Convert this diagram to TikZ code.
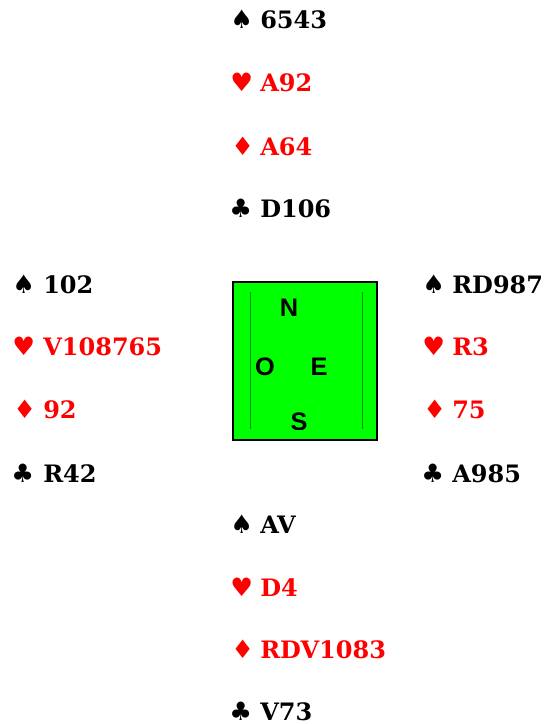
\documentclass[tikz,border=0pt]{standalone}
\usepackage{fontspec}
\setmainfont{DejaVu Serif}
\newfontfamily\suitfont{DejaVu Sans}
\newfontfamily\boxfont{Liberation Sans}
\begin{document}
\begin{tikzpicture}[x=0.75pt,y=-0.75pt,
  cardtxt/.style={anchor=base west,inner sep=0pt,font=\fontsize{18}{20}\selectfont\bfseries},
  suit/.style={anchor=base west,inner sep=0pt,font=\fontsize{19}{20}\suitfont},
  redc/.style={text=red},
  blackc/.style={text=black},
  dir/.style={inner sep=0pt,font=\fontsize{19}{20}\boxfont\bfseries},
  tablebox/.style={draw=black,line width=1.5pt,fill=green},
  innerln/.style={green!55!black,line width=0.4pt}]
\useasboundingbox (0,0) rectangle (544,724);
% North
\node[suit,blackc] (ns) at (230,29) {♠};
\node[cardtxt,blackc] (nst) at (260,29) {6543};
\node[suit,redc] (nh) at (230,92) {♥};
\node[cardtxt,redc] (nht) at (260,92) {A92};
\node[suit,redc] (nd) at (231,155) {♦};
\node[cardtxt,redc] (ndt) at (260,155) {A64};
\node[suit,blackc] (nc) at (229,217) {♣};
\node[cardtxt,blackc] (nct) at (260,217) {D106};
% West
\node[suit,blackc] (ws) at (12,293) {♠};
\node[cardtxt,blackc] (wst) at (43,293) {102};
\node[suit,redc] (wh) at (12,355) {♥};
\node[cardtxt,redc] (wht) at (43,355) {V108765};
\node[suit,redc] (wd) at (13,418) {♦};
\node[cardtxt,redc] (wdt) at (43,418) {92};
\node[suit,blackc] (wc) at (11,482) {♣};
\node[cardtxt,blackc] (wct) at (43,482) {R42};
% East
\node[suit,blackc] (es) at (422,293) {♠};
\node[cardtxt,blackc] (est) at (452,293) {RD987};
\node[suit,redc] (eh) at (422,355) {♥};
\node[cardtxt,redc] (eht) at (452,355) {R3};
\node[suit,redc] (ed) at (423,418) {♦};
\node[cardtxt,redc] (edt) at (452,418) {75};
\node[suit,blackc] (ec) at (421,482) {♣};
\node[cardtxt,blackc] (ect) at (452,482) {A985};
% South
\node[suit,blackc] (ss) at (230,533) {♠};
\node[cardtxt,blackc] (sst) at (260,533) {AV};
\node[suit,redc] (sh) at (230,596) {♥};
\node[cardtxt,redc] (sht) at (260,596) {D4};
\node[suit,redc] (sd) at (231,658) {♦};
\node[cardtxt,redc] (sdt) at (260,658) {RDV1083};
\node[suit,blackc] (sc) at (229,720) {♣};
\node[cardtxt,blackc] (sct) at (260,720) {V73};
% Table
\draw[tablebox] (233,282) rectangle (377,440);
\draw[innerln] (250,292) -- (250,429);
\draw[innerln] (362,292) -- (362,429);
\node[dir] (dn) at (289,308) {N};
\node[dir] (do) at (265,367) {O};
\node[dir] (de) at (319,367) {E};
\begin{scope}
\clip (250,292) rectangle (362,429);
\node[dir] (dsth) at (299,422) {S};
\end{scope}
\end{tikzpicture}
\end{document}
